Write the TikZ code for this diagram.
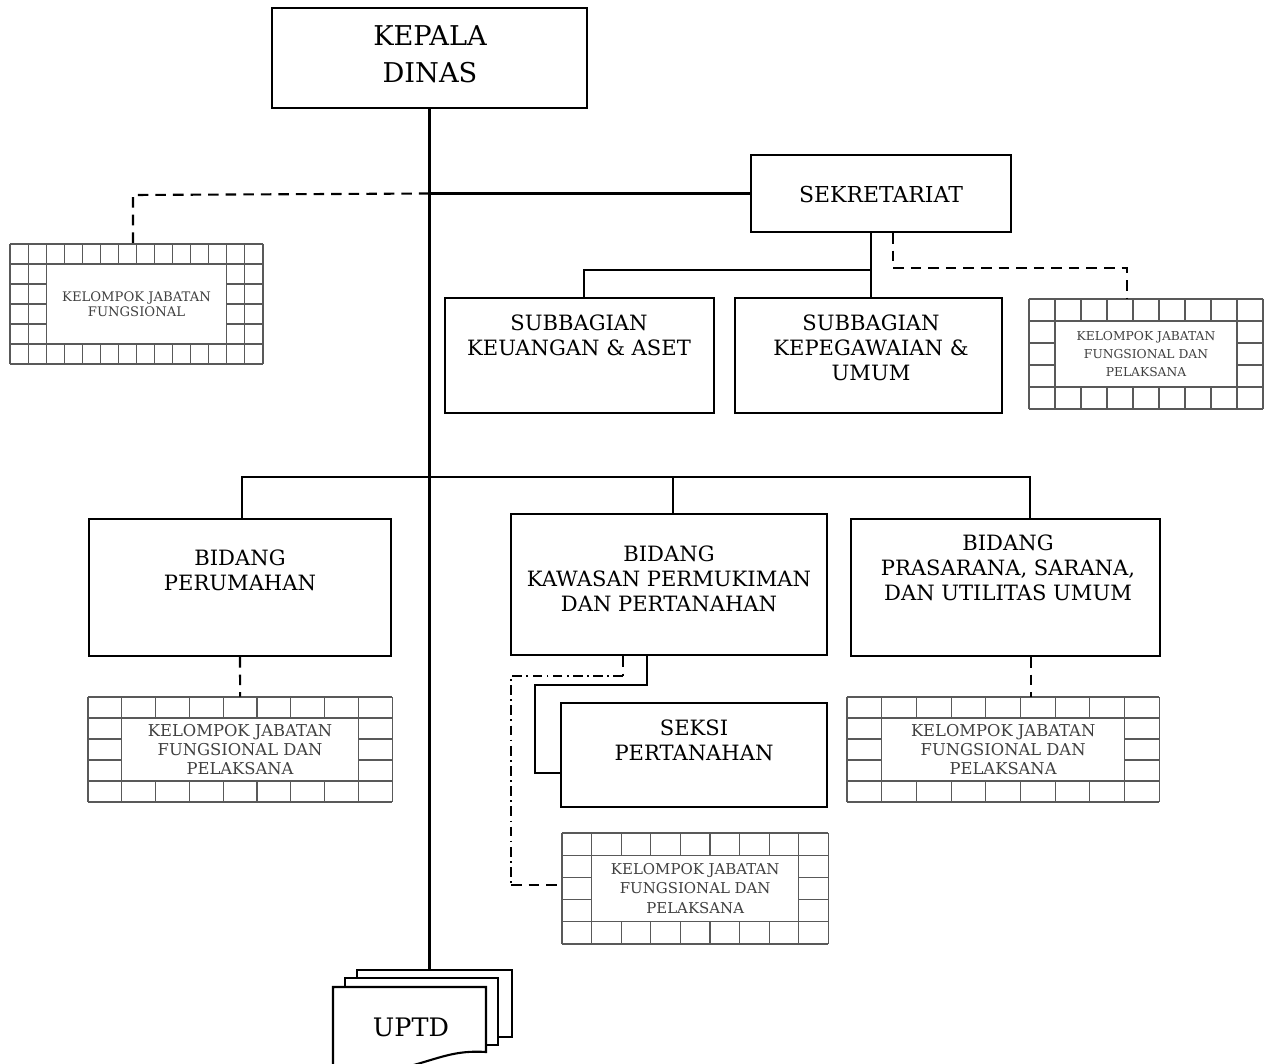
\documentclass[tikz,border=0pt]{standalone}
\usepackage{fontspec}
\setmainfont{DejaVu Serif}
\usetikzlibrary{calc}

% grid frame round a "kelompok jabatan" box
\newcommand{\jabgrid}[8]{%
  \begin{scope}[shift={(#2,#3)}]
  \foreach \i in {0,...,#4} \draw[gridline] (\i*#6,0) -- (\i*#6,#5*#7);
  \foreach \j in {0,...,#5} \draw[gridline] (0,\j*#7) -- (#4*#6,\j*#7);
  \draw[gridline,fill=white] (#8*#6,#7) rectangle ({(#4-#8)*#6},{(#5-1)*#7});
  \node[inner sep=0pt,minimum width={#4*#6*0.02cm},minimum height={#5*#7*0.02cm}] (#1) at ({#4*#6/2},{#5*#7/2}) {};
  \end{scope}}

\begin{document}
\begin{tikzpicture}[x=0.02cm,y=-0.02cm,
  unit/.style={draw,line width=1.2pt,inner sep=0pt},
  unittext/.style={align=center,font=\fontsize{12}{14.2}\selectfont},
  conn/.style={line width=1.2pt},
  dashline/.style={line width=1.2pt,dash pattern=on 6pt off 4pt},
  dashdot/.style={line width=1.2pt,dash pattern=on 5.5pt off 2.5pt on 1pt off 2.5pt},
  gridline/.style={draw=black!65,line width=0.6pt},
  gridtext/.style={align=center,text=black!75},
  page/.style={draw,line width=1.2pt,fill=white}]
\useasboundingbox (0,0) rectangle (1268,1064);
\clip (0,0) rectangle (1268,1064);

\node[unit,minimum width=6.30cm,minimum height=2.00cm] (kepala) at (429.5,58) {};
\node[unittext,font=\fontsize{15.5}{21}\selectfont] (kepala-t) at (430,54) {KEPALA\\DINAS};

\node[unit,minimum width=5.20cm,minimum height=1.54cm] (sekre) at (881,193.5) {};
\node[unittext,font=\fontsize{12.5}{15}\selectfont] (sekre-t) at (881,195) {SEKRETARIAT};

\node[unit,minimum width=5.38cm,minimum height=2.30cm] (sub1) at (579.5,355.5) {};
\node[unittext] (sub1-t) at (579,335) {SUBBAGIAN\\KEUANGAN \& ASET};
\node[unit,minimum width=5.34cm,minimum height=2.30cm] (sub2) at (868.5,355.5) {};
\node[unittext] (sub2-t) at (871,348) {SUBBAGIAN\\KEPEGAWAIAN \&\\UMUM};

\node[unit,minimum width=6.04cm,minimum height=2.74cm] (bid1) at (240,587.5) {};
\node[unittext] (bid1-t) at (240,570) {BIDANG\\PERUMAHAN};
\node[unit,minimum width=6.32cm,minimum height=2.82cm] (bid2) at (669,584.5) {};
\node[unittext] (bid2-t) at (669,579) {BIDANG\\KAWASAN PERMUKIMAN\\DAN PERTANAHAN};
\node[unit,minimum width=6.18cm,minimum height=2.74cm] (bid3) at (1005.5,587.5) {};
\node[unittext] (bid3-t) at (1008,568) {BIDANG\\PRASARANA, SARANA,\\DAN UTILITAS UMUM};

\node[unit,minimum width=5.32cm,minimum height=2.08cm] (seksi) at (694,755) {};
\node[unittext] (seksi-t) at (694,740) {SEKSI\\PERTANAHAN};

\jabgrid{jf1}{10}{244}{14}{6}{18.07}{20}{2}
\node[gridtext,font=\fontsize{7.5}{8.6}\selectfont] (jf1-t) at (jf1) {KELOMPOK JABATAN\\FUNGSIONAL};
\jabgrid{jf2}{1029}{299}{9}{5}{26}{22}{1}
\node[gridtext,font=\fontsize{7}{10.2}\selectfont] (jf2-t) at (jf2) {KELOMPOK JABATAN\\FUNGSIONAL DAN\\PELAKSANA};
\jabgrid{jf3}{88}{697}{9}{5}{33.8}{21}{1}
\node[gridtext,font=\fontsize{9.3}{11}\selectfont] (jf3-t) at (jf3) {KELOMPOK JABATAN\\FUNGSIONAL DAN\\PELAKSANA};
\jabgrid{jf4}{847}{697}{9}{5}{34.7}{21}{1}
\node[gridtext,font=\fontsize{9.3}{11}\selectfont] (jf4-t) at (jf4) {KELOMPOK JABATAN\\FUNGSIONAL DAN\\PELAKSANA};
\jabgrid{jf5}{562}{833}{9}{5}{29.6}{22.2}{1}
\node[gridtext,font=\fontsize{8.5}{11}\selectfont] (jf5-t) at (jf5) {KELOMPOK JABATAN\\FUNGSIONAL DAN\\PELAKSANA};

% UPTD pages
\node[page,minimum width=3.10cm,minimum height=1.34cm] (uptd3) at (434.5,1003.5) {};
\draw[conn] (kepala.south) -- (kepala.south |- uptd3.north);
\node[page,minimum width=3.06cm,minimum height=1.34cm] (uptd2) at (421.5,1011.5) {};
\draw[page] (333,987) -- (486,987) -- (486,1052) .. controls (455,1050) and (440,1058) .. (410,1066)
  .. controls (385,1074) and (355,1078) .. (333,1074) -- cycle;
\node[unittext,font=\fontsize{14.5}{17}\selectfont] (uptd) at (411,1027) {UPTD};

% sekretariat
\draw[conn] (kepala.south |- sekre.west) -- (sekre.west);
\coordinate (jf1c) at (133,195);
\draw[dashline] (kepala.south |- sekre.west) -- (jf1c) -- (jf1c |- jf1.north);
\coordinate (sbus) at (871,270);
\draw[conn] (sbus |- sekre.south) -- (sbus);
\draw[conn] (584,0 |- sub1.north) |- (sbus) -- (sbus |- sub2.north);
\coordinate (jf2c) at (1127,268);
\draw[dashline] (893,0 |- sekre.south) |- (jf2c) -- (jf2c |- jf2.north);

% bidang
\coordinate (bbus) at (1030,477);
\draw[conn] (242,0 |- bid1.north) |- (bbus) -- (bbus |- bid3.north);
\draw[conn] (673,477) -- (673,0 |- bid2.north);
\draw[dashline] (bid1.south) -- (jf3.north);
\draw[dashline] (1031,0 |- bid3.south) -- (1031,0 |- jf4.north);

% seksi
\draw[conn] (647,0 |- bid2.south) |- (535,685) |- (seksi.west |- 0,773);
\coordinate (dd1) at (623,676);
\coordinate (dd2) at (511,885);
\draw[dashline] (dd1 |- bid2.south) -- (dd1);
\draw[dashdot] (dd1) -| (dd2);
\draw[dashline] (dd2) -- (jf5.west |- dd2);
\end{tikzpicture}
\end{document}
